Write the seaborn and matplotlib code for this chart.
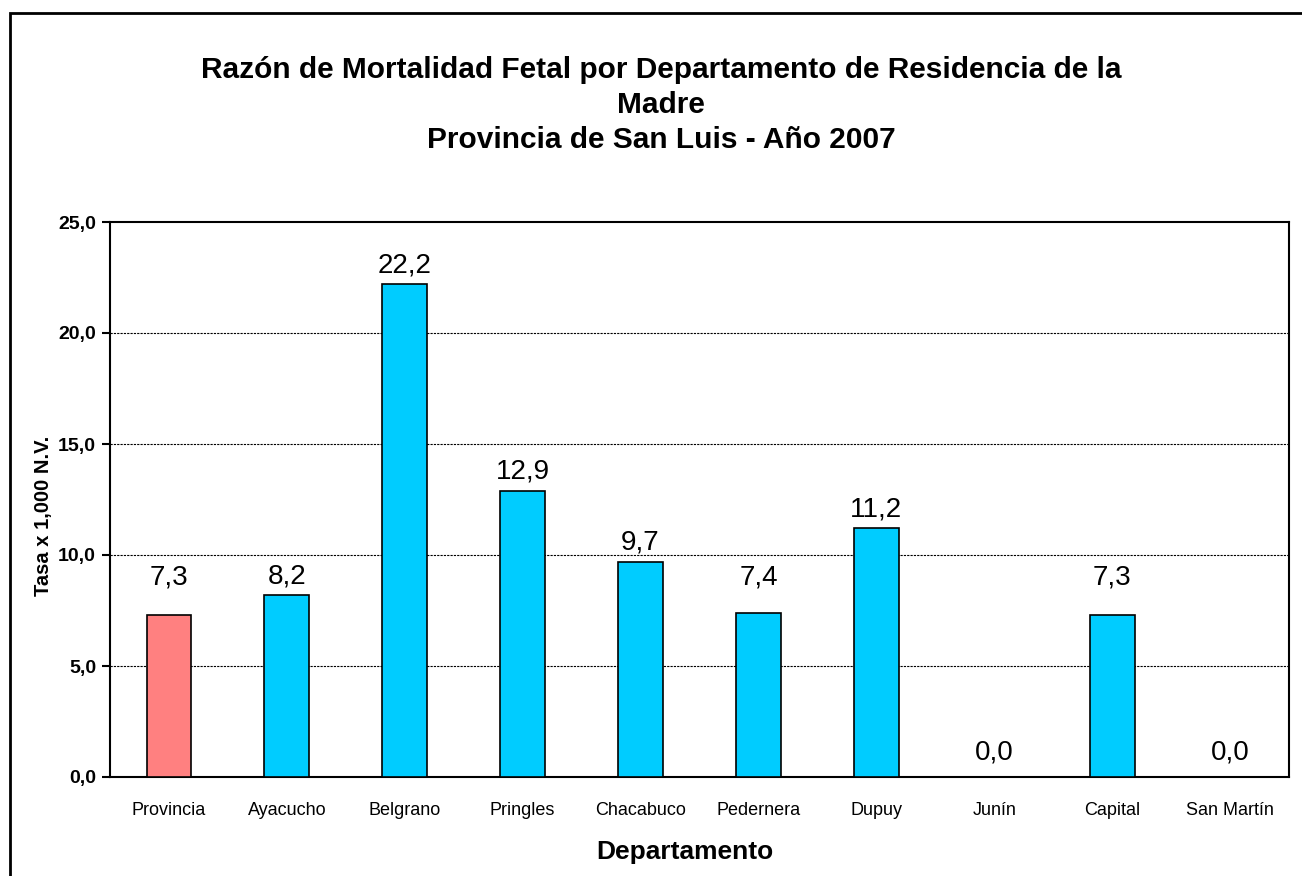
import pandas as pd
import numpy as np
from matplotlib import pyplot as plt
from matplotlib.patches import Rectangle
import seaborn as sns

departamentos = ["Provincia", "Ayacucho", "Belgrano", "Pringles", "Chacabuco",
                 "Pedernera", "Dupuy", "Junín", "Capital", "San Martín"]
tasas = [7.3, 8.2, 22.2, 12.9, 9.7, 7.4, 11.2, 0.0, 7.3, 0.0]
colores = ["#FF8080"] + ["#00CCFF"] * 9

df = pd.DataFrame({"Departamento": departamentos, "Tasa": tasas})

sns.set_style("white")
plt.rcParams["font.family"] = ["Liberation Sans", "DejaVu Sans"]
plt.rcParams["text.color"] = "black"
plt.rcParams["axes.labelcolor"] = "black"
plt.rcParams["xtick.color"] = "black"
plt.rcParams["ytick.color"] = "black"

fig = plt.figure(figsize=(13.02, 8.76), dpi=100)
ax = fig.add_axes([110 / 1302, 1 - 777 / 876, 1179 / 1302, 555 / 876])

sns.barplot(data=df, x="Departamento", y="Tasa", hue="Departamento",
            palette=colores, saturation=1, legend=False, width=0.38,
            edgecolor="black", linewidth=1.2, ax=ax, zorder=3)

# etiquetas de valor (como en Excel, las chicas quedan a una altura mínima)
for i, v in enumerate(tasas):
    ypos = max(v + 0.85, 9.0) if v > 0 else 1.1
    ax.text(i, ypos, f"{v:.1f}".replace(".", ","), ha="center", va="center",
            fontsize=20, color="black", zorder=4)

ax.set_ylim(0, 25)
ax.set_xlim(-0.5, 9.5)
ax.set_yticks(np.arange(0, 26, 5))
ax.set_yticklabels([f"{t:.1f}".replace(".", ",") for t in np.arange(0, 26, 5)],
                   fontsize=14, fontweight="bold")
ax.set_xticks(range(10))
ax.set_xticklabels(departamentos, fontsize=13)
ax.tick_params(axis="x", length=0, pad=18)
ax.set_xticks(np.arange(-0.5, 10, 1), minor=True)
ax.tick_params(axis="x", which="minor", length=6, width=1.5, direction="out")
ax.tick_params(axis="y", length=6, width=1.5, direction="out", left=True, pad=4)

for y in [5, 10, 15, 20]:
    ax.axhline(y, color="black", linestyle=(0, (2, 1)), linewidth=0.8, zorder=1)

for s in ax.spines.values():
    s.set_visible(True)
    s.set_color("black")
    s.set_linewidth(1.5)

ax.set_xlabel("Departamento", fontsize=19, fontweight="bold")
ax.xaxis.set_label_coords(0.4877, -0.113)
ax.set_ylabel("Tasa x 1,000 N.V.", fontsize=14.5, fontweight="bold")
ax.yaxis.set_label_coords(-0.048, 0.47)

cx = 661 / 1302
fig.text(cx, 1 - 70 / 876, "Razón de Mortalidad Fetal por Departamento de Residencia de la",
         ha="center", va="center", fontsize=21.5, fontweight="bold")
fig.text(cx, 1 - 105 / 876, "Madre", ha="center", va="center", fontsize=21.5, fontweight="bold")
fig.text(cx, 1 - 140 / 876, "Provincia de San Luis - Año 2007",
         ha="center", va="center", fontsize=21.5, fontweight="bold")

# marco exterior del gráfico
fig.patches.append(Rectangle((10 / 1302, -0.05), 1.1, 1 - 13 / 876 + 0.05,
                             transform=fig.transFigure, fill=False,
                             edgecolor="black", linewidth=2))

fig.savefig("out.png", dpi=100, facecolor="white")
